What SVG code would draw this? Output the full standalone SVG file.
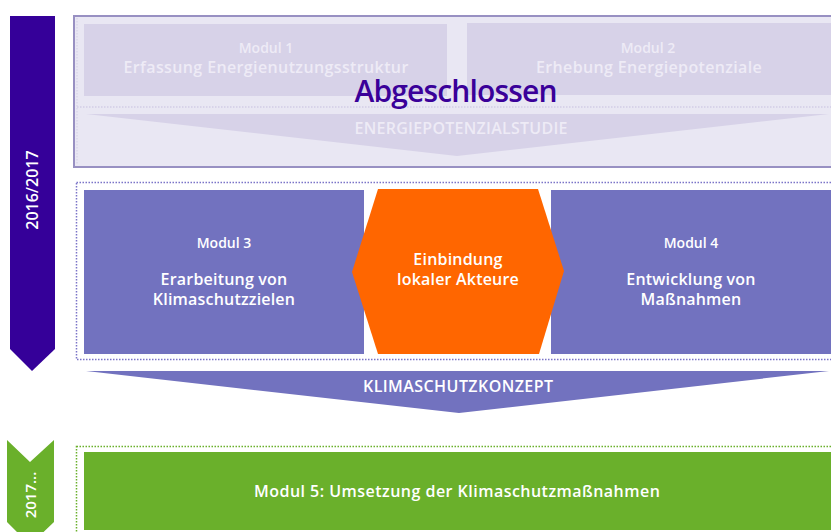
<svg xmlns="http://www.w3.org/2000/svg" width="831" height="532" viewBox="0 0 831 532">
<style>
text{font-family:"Open Sans","Noto Sans","DejaVu Sans",sans-serif;font-weight:600;text-anchor:middle}
.pale{fill:#eeebf6}
.wh{fill:#ffffff}
.m{font-size:14px}
.t{font-size:16px;letter-spacing:0.2px}
.cap{font-size:16px}
</style>
<rect width="831" height="532" fill="#ffffff"/>
<g id="timeline-2016">
<polygon points="10,16 55,16 55,349 32,371 10,349" fill="#350099"/>
<text class="wh" font-size="16" font-weight="700" transform="translate(38,190) rotate(-90)">2016/2017</text>
</g>
<g id="timeline-2017">
<polygon points="7,440 30,462 54,440 54,522 30,545 7,522" fill="#6ab02b"/>
<text class="wh" font-size="15" font-weight="700" transform="translate(36,495) rotate(-90)">2017...</text>
</g>
<g id="phase1">
<rect x="74" y="16" width="770" height="151" fill="#e9e7f3" stroke="#9890c2" stroke-width="2"/>
<line x1="77" y1="18" x2="77" y2="165" stroke="#d2cde6" stroke-dasharray="1.5,1.5"/>
<line x1="77" y1="107" x2="831" y2="107" stroke="#d2cde6" stroke-width="1.5" stroke-dasharray="1.5,1.5"/>
</g>
<g id="modul1">
<rect x="84" y="24" width="363" height="72" fill="#d7d2e8"/>
<text class="pale m" x="266" y="53">Modul 1</text>
<text class="pale t" x="266" y="73" textLength="285">Erfassung Energienutzungsstruktur</text>
</g>
<g id="modul2">
<rect x="467" y="23" width="364" height="72" fill="#d7d2e8"/>
<text class="pale m" x="648" y="53">Modul 2</text>
<text class="pale t" x="649" y="73" textLength="226">Erhebung Energiepotenziale</text>
</g>
<g id="energiepotenzialstudie">
<polygon points="86,114 829,114 457,156" fill="#d7d2e8"/>
<text class="pale cap" x="461" y="134" textLength="213">ENERGIEPOTENZIALSTUDIE</text>
</g>
<g id="abgeschlossen">
<text x="456" y="102" font-size="30" font-weight="600" fill="#3a0099" textLength="203">Abgeschlossen</text>
</g>
<g id="phase2">
<rect x="76.5" y="182.5" width="760" height="177" fill="none" stroke="#7b74c8" stroke-width="1.5" stroke-dasharray="1.5,1.5"/>
</g>
<g id="modul3">
<rect x="84" y="190" width="280" height="164" fill="#7272bf"/>
<text class="wh m" x="224" y="248">Modul 3</text>
<text class="wh t" x="224" y="285">Erarbeitung von</text>
<text class="wh t" x="224" y="305">Klimaschutzzielen</text>
</g>
<g id="modul4">
<rect x="551" y="190" width="280" height="164" fill="#7272bf"/>
<text class="wh m" x="691" y="248">Modul 4</text>
<text class="wh t" x="691" y="285">Entwicklung von</text>
<text class="wh t" x="691" y="305">Maßnahmen</text>
</g>
<g id="akteure">
<polygon points="378,189 538,189 564,271 539,354 378,354 352,272" fill="#ff6600"/>
<text class="wh t" x="458" y="265">Einbindung</text>
<text class="wh t" x="458" y="285">lokaler Akteure</text>
</g>
<g id="klimaschutzkonzept">
<polygon points="86,371 829,371 459,413" fill="#7272bf"/>
<text class="wh cap" x="458" y="392" textLength="190">KLIMASCHUTZKONZEPT</text>
</g>
<g id="phase3">
<rect x="76.5" y="446.5" width="760" height="100" fill="none" stroke="#6ab02b" stroke-width="1.5" stroke-dasharray="1.5,1.5"/>
</g>
<g id="modul5">
<rect x="84" y="452" width="747" height="78" fill="#6ab02b"/>
<text class="wh t" x="457" y="497" textLength="406">Modul 5: Umsetzung der Klimaschutzmaßnahmen</text>
</g>
<g id="connectors"></g>
</svg>
